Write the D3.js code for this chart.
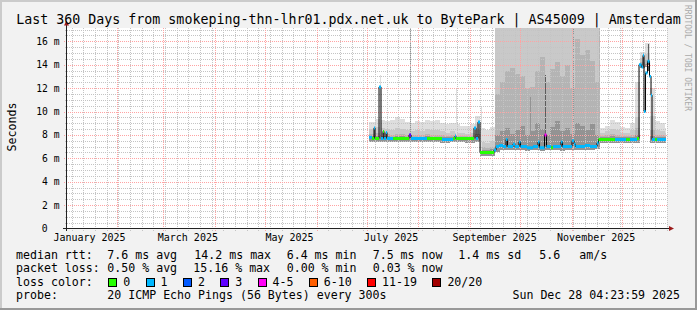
<!DOCTYPE html>
<html>
<head>
<meta charset="utf-8">
<script src="https://cdn.jsdelivr.net/npm/d3@7"></script>
<style>
  body { margin: 0; background: #f2f2f2; }
  svg { display: block; font-family: "DejaVu Sans Mono", monospace; }
</style>
</head>
<body>
<script>
// all x positions are day-of-year 2025 (0 = Jan 1)

// smoke bins (start day of each bin)
const smokeDays = [182.4, 186, 189, 192, 195, 198, 201, 204, 207, 210, 213, 216, 219, 222, 225, 228, 231, 234, 237, 240,
  243, 246, 249, 252, 255, 258, 261, 264, 267, 270, 273, 276, 279, 282, 285, 288, 291, 294, 297, 300,
  303, 306, 309, 312, 315, 318, 321, 324, 327, 330, 333, 336, 339, 342, 345, 348, 351, 354, 357, 360];
const dataEnd = 360.6;

// smoke band tops (ms)
const smokeMax = [9.1, 9.4, 9.3, 9.2, 9.3, 9.5, 9.4, 9.1, 9.0, 9.2, 9.1, 9.3, 9.2, 9.3, 9.0, 8.9, 9.0, 8.9, 8.8, 8.8,
  8.9, 9.6, 8.6, 8.4, 8.7,
  17.2, 17.2, 17.2, 17.2, 17.2, 17.2, 17.2, 17.2, 17.2, 17.2, 17.2, 17.2, 17.2, 17.2, 17.2, 17.2, 17.2, 17.2, 17.2, 17.2, 17.2,
  8.6, 8.8, 9.3, 9.1, 8.7, 8.6, 9.0, 12.5, 15.1, 15.9, 12.0, 9.2, 9.0, 8.6];
const smokeP90 = [8.5, 8.7, 8.6, 8.5, 8.4, 8.6, 8.5, 8.4, 8.3, 8.4, 8.3, 8.5, 8.4, 8.4, 8.3, 8.2, 8.3, 8.2, 8.2, 8.1,
  8.2, 8.9, 7.4, 7.3, 7.5,
  17.2, 17.2, 17.2, 17.2, 17.2, 17.2, 17.2, 17.2, 17.2, 17.2, 17.2, 17.2, 17.2, 17.2, 17.2, 17.2, 17.2, 17.2, 17.2, 17.2, 17.2,
  8.2, 8.3, 8.5, 8.4, 8.2, 8.2, 8.4, 9.5, 14.6, 14.9, 9.6, 8.4, 8.3, 8.2];
const smokeP75 = [8.1, 8.2, 8.2, 8.1, 8.0, 8.1, 8.1, 8.0, 8.0, 8.0, 8.0, 8.1, 8.0, 8.0, 8.0, 7.9, 8.0, 7.9, 7.9, 7.9,
  7.9, 8.5, 7.0, 6.9, 7.0,
  11.5, 12.5, 13.5, 13.7, 13.2, 13.0, 12.0, 12.1, 13.5, 14.7, 12.5, 13.6, 14.2, 13.0, 14.0, 12.0, 16.2, 14.8, 15.3, 14.3, 12.5,
  7.9, 8.0, 8.1, 8.0, 7.9, 7.9, 8.0, 8.6, 14.2, 14.4, 8.4, 8.0, 8.0, 7.9];
const smokeP60 = [7.9, 7.9, 7.9, 7.9, 7.8, 7.9, 7.9, 7.8, 7.8, 7.8, 7.8, 7.9, 7.8, 7.8, 7.8, 7.8, 7.8, 7.8, 7.8, 7.7,
  7.7, 8.1, 6.7, 6.7, 6.8,
  8.0, 8.3, 8.6, 8.1, 8.4, 8.8, 8.0, 8.3, 9.0, 8.5, 8.0, 8.7, 9.2, 8.3, 8.6, 8.1, 9.0, 8.8, 8.4, 8.9, 8.0,
  7.8, 7.8, 7.9, 7.8, 7.8, 7.8, 7.8, 8.0, 13.9, 14.1, 7.9, 7.8, 7.8, 7.8];
const smokeMin = [7.4, 7.4, 7.4, 7.4, 7.4, 7.4, 7.4, 7.4, 7.4, 7.4, 7.4, 7.4, 7.4, 7.4, 7.3, 7.3, 7.4, 7.4, 7.4, 7.3,
  7.3, 7.4, 6.2, 6.2, 6.2,
  6.5, 6.7, 6.7, 6.7, 6.7, 6.7, 6.6, 6.7, 6.7, 6.6, 6.7, 6.7, 6.7, 6.6, 6.7, 6.7, 6.7, 6.7, 6.7, 6.7, 6.8,
  7.3, 7.3, 7.3, 7.3, 7.3, 7.3, 7.3, 7.3, 13.7, 13.8, 7.3, 7.3, 7.3, 7.3];

// single pings far from the median
const spikeDays = [188.7, 207.0, 234.6, 249.6, 278.9, 287.9, 304.8, 320.4, 349.8];
const spikeLow = [7.7, 7.7, 7.8, 6.5, 7.0, 8.0, 7.5, 7.3, 13.5];
const spikeHigh = [13.1, 17.2, 12.0, 10.5, 11.2, 13.1, 17.2, 17.2, 15.8];
const spikeBand = [0, 3, 0, 0, 3, 4, 3, 2, 4];

// median rtt (step) and packet loss per step
const medDays = [182.4, 184.2, 185.4, 186.0, 188.4, 189.6, 190.8, 191.4, 192.6, 193.2, 196.8, 206.4, 207.6, 217.2, 226.2,
  232.8, 234.0, 234.6, 245.4, 246.6, 247.8, 249.0, 257.4, 258.6, 260.4, 262.8, 264.6, 265.5, 268.8, 270.0,
  272.4, 273.3, 277.2, 280.8, 283.8, 284.7, 287.7, 288.9, 291.6, 292.8, 297.6, 298.5, 304.2, 305.4, 306.3,
  312.0, 315.0, 319.2, 320.1, 330.0, 336.6, 339.0, 343.2, 344.4, 345.9, 346.8, 347.4, 348.3, 349.5, 350.7,
  351.6, 352.2, 354.0, 355.2];
const medVals = [7.8, 7.7, 8.6, 7.7, 12.1, 7.7, 8.3, 7.7, 8.2, 7.7, 7.7, 8.0, 7.7, 7.7, 7.6,
  7.7, 7.9, 7.7, 8.6, 7.7, 9.1, 6.5, 6.7, 7.0, 7.1, 7.0, 7.6, 7.0, 7.2, 7.0,
  7.4, 7.0, 6.9, 7.0, 7.4, 6.9, 8.0, 7.0, 6.9, 7.0, 7.4, 7.0, 7.5, 7.2, 7.0,
  7.1, 7.0, 7.3, 7.6, 7.6, 7.6, 7.6, 7.7, 14.0, 13.8, 14.8, 10.0, 13.3, 14.3, 13.0,
  11.4, 7.6, 7.6, 7.6];
const medLoss = [1, 0, 1, 0, 1, 1, 0, 1, 1, 1, 0, 3, 1, 0, 1,
  0, 1, 0, 1, 1, 1, 0, 1, 1, 1, 1, 1, 1, 1, 1,
  1, 1, 1, 1, 1, 1, 4, 1, 0, 1, 1, 1, 1, 1, 1,
  1, 1, 1, 0, 1, 0, 1, 0, 1, 1, 1, 1, 1, 1, 1,
  1, 1, 0, 1];

// axes / legend text
const yTicks = [0, 2, 4, 6, 8, 10, 12, 14, 16];
const yTickLabels = ["0", "2 m", "4 m", "6 m", "8 m", "10 m", "12 m", "14 m", "16 m"];
const xLabelMonths = [0, 2, 4, 6, 8, 10];
const xLabels = ["January 2025", "March 2025", "May 2025", "July 2025", "September 2025", "November 2025"];
const lossLabels = ["0", "1", "2", "3", "4-5", "6-10", "11-19", "20/20"];
const lossColors = ["#26ff00", "#00b8ff", "#0059ff", "#5e00ff", "#ff00f6", "#ff5e00", "#ff0000", "#a10000"];
const rttStats = ["7.6 ms avg", "14.2 ms max", "6.4 ms min", "7.5 ms now", "1.4 ms sd", "5.6", "am/s"];
const lossStats = ["0.50 % avg", "15.16 % max", "0.00 % min", "0.03 % now"];

const W = 697, H = 310;
const yMax = 17.14;
const smokeShades = ["#dedede", "#c9c9c9", "#b4b4b4", "#939393", "#5c5c5c"];

const dayToDate = (d) => new Date(new Date(2025, 0, 1).getTime() + d * 864e5);

const x = d3.scaleTime()
  .domain([new Date(2025, 0, 2, 4, 23, 59), new Date(2025, 11, 28, 4, 23, 59)])
  .range([67, 667]);
const y = d3.scaleLinear().domain([0, yMax]).range([228.5, 28]);
const xd = (d) => x(dayToDate(d));
const lossColor = d3.scaleThreshold().domain([1, 2, 3, 4, 6, 11, 20]).range(lossColors);

const svg = d3.select("body").append("svg").attr("width", W).attr("height", H);

// background and 3d frame
svg.append("rect").attr("width", W).attr("height", H).attr("fill", "#f2f2f2");
svg.append("rect").attr("width", W).attr("height", 2).attr("fill", "#cbcbcb");
svg.append("rect").attr("width", 2).attr("height", H).attr("fill", "#cbcbcb");
svg.append("rect").attr("x", W - 2).attr("width", 2).attr("height", H).attr("fill", "#999");
svg.append("rect").attr("y", H - 2).attr("width", W).attr("height", 2).attr("fill", "#999");

svg.append("rect").attr("x", 67).attr("y", 28).attr("width", 600).attr("height", 200.5).attr("fill", "#fff");

svg.append("clipPath").attr("id", "plotclip")
  .append("rect").attr("x", 67).attr("y", 28).attr("width", 600).attr("height", 200.5);

// smoke
const smoke = svg.append("g").attr("clip-path", "url(#plotclip)").attr("shape-rendering", "crispEdges");
const bands = [smokeMax, smokeP90, smokeP75, smokeP60];
bands.forEach(function (tops, b) {
  smoke.selectAll(".band" + b)
    .data(smokeDays)
    .enter()
    .append("rect")
    .attr("x", (d) => xd(d))
    .attr("width", (d, i) => xd(i < smokeDays.length - 1 ? smokeDays[i + 1] : dataEnd) - xd(d))
    .attr("y", (d, i) => y(Math.min(tops[i], yMax)))
    .attr("height", (d, i) => y(smokeMin[i]) - y(Math.min(tops[i], yMax)))
    .attr("fill", smokeShades[b]);
});
smoke.selectAll(".spike")
  .data(spikeDays)
  .enter()
  .append("rect")
  .attr("x", (d) => xd(d))
  .attr("width", 1)
  .attr("y", (d, i) => y(Math.min(spikeHigh[i], yMax)))
  .attr("height", (d, i) => y(spikeLow[i]) - y(Math.min(spikeHigh[i], yMax)))
  .attr("fill", (d, i) => smokeShades[spikeBand[i]]);

// grid
const grid = svg.append("g").attr("shape-rendering", "crispEdges");
const t0 = x.domain()[0], t1 = x.domain()[1];
const weeks = d3.timeSunday.range(t0, t1);
const months = d3.timeMonth.range(t0, t1);
const minorY = d3.range(0.5, yMax, 0.5).filter((v) => v % 2 !== 0);
const majorY = yTicks.filter((v) => v > 0);

grid.selectAll(".vminor").data(weeks).enter().append("line")
  .attr("x1", (d) => Math.round(x(d)) + 0.5).attr("x2", (d) => Math.round(x(d)) + 0.5)
  .attr("y1", 28).attr("y2", 230.5)
  .attr("stroke", "#c4c4c4").attr("stroke-dasharray", "1,1");
grid.selectAll(".hminor").data(minorY).enter().append("line")
  .attr("x1", 65).attr("x2", 667)
  .attr("y1", (d) => Math.round(y(d)) + 0.5).attr("y2", (d) => Math.round(y(d)) + 0.5)
  .attr("stroke", "#c4c4c4").attr("stroke-dasharray", "1,1");
grid.selectAll(".vmajor").data(months).enter().append("line")
  .attr("x1", (d) => Math.round(x(d)) + 0.5).attr("x2", (d) => Math.round(x(d)) + 0.5)
  .attr("y1", 28).attr("y2", 231.5)
  .attr("stroke", "#ffa3a3").attr("stroke-dasharray", "1,1");
grid.selectAll(".hmajor").data(majorY).enter().append("line")
  .attr("x1", 64).attr("x2", 667)
  .attr("y1", (d) => Math.round(y(d)) + 0.5).attr("y2", (d) => Math.round(y(d)) + 0.5)
  .attr("stroke", "#ffa3a3").attr("stroke-dasharray", "1,1");

// median: black step line, loss colored segments on top
const medPts = medDays.map((d, i) => [d, medVals[i]]).concat([[dataEnd, medVals[medVals.length - 1]]]);
const stepLine = d3.line().x((p) => xd(p[0])).y((p) => y(p[1])).curve(d3.curveStepAfter);
svg.append("path")
  .attr("clip-path", "url(#plotclip)")
  .attr("d", stepLine(medPts))
  .attr("fill", "none").attr("stroke", "#000").attr("stroke-width", 1);
svg.append("g").attr("clip-path", "url(#plotclip)")
  .selectAll("line").data(medDays).enter().append("line")
  .attr("x1", (d) => xd(d))
  .attr("x2", (d, i) => xd(i < medDays.length - 1 ? medDays[i + 1] : dataEnd))
  .attr("y1", (d, i) => y(medVals[i])).attr("y2", (d, i) => y(medVals[i]))
  .attr("stroke", (d, i) => lossColor(medLoss[i]))
  .attr("stroke-width", 3);

// axes with arrows
svg.append("line").attr("x1", 66.5).attr("x2", 66.5).attr("y1", 231).attr("y2", 23)
  .attr("stroke", "#222").attr("shape-rendering", "crispEdges");
svg.append("line").attr("x1", 63).attr("x2", 670).attr("y1", 228.5).attr("y2", 228.5)
  .attr("stroke", "#222").attr("shape-rendering", "crispEdges");
svg.append("path").attr("d", "M66.5,20.5L64,25.5L69,25.5Z").attr("fill", "#9b1b1b");
svg.append("path").attr("d", "M674,228.5L669,226L669,231Z").attr("fill", "#9b1b1b");

// y tick labels
svg.selectAll(".ylab").data(yTicks).enter().append("text")
  .attr("x", (d) => (d === 0 ? 47.5 : 59.5))
  .attr("y", (d) => y(d) + 3.5)
  .attr("text-anchor", "end")
  .attr("font-size", "9.7px")
  .text((d, i) => yTickLabels[i]);

// x labels centred on mid-month
svg.selectAll(".xlab").data(xLabelMonths).enter().append("text")
  .attr("x", (m) => x(new Date(new Date(2025, m, 1).getTime() + 14.7 * 864e5)))
  .attr("y", 241)
  .attr("text-anchor", "middle")
  .attr("font-size", "10px")
  .text((m, i) => xLabels[i]);

// title and axis title
svg.append("text").attr("x", 348.5).attr("y", 24).attr("text-anchor", "middle")
  .attr("font-size", "13.3px")
  .text("Last 360 Days from smokeping-thn-lhr01.pdx.net.uk to BytePark | AS45009 | Amsterdam");
svg.append("text").attr("transform", "translate(15.5,127) rotate(-90)")
  .attr("text-anchor", "middle").attr("font-size", "11.6px").text("Seconds");
svg.append("text").attr("transform", "translate(685,5) rotate(90)")
  .attr("font-size", "8px").attr("fill", "#aaa").text("RRDTOOL / TOBI OETIKER");

// legend
const legend = svg.append("g").attr("font-size", "11.6px").attr("xml:space", "preserve");
const rttCols = [107.3, 194.3, 286.7, 372.7, 458.3, 539.3, 579.3];
legend.append("text").attr("x", 16).attr("y", 258.5).text("median rtt:");
rttStats.forEach((s, i) => legend.append("text").attr("x", rttCols[i]).attr("y", 258.5).text(s));
legend.append("text").attr("x", 16).attr("y", 272).text("packet loss:");
lossStats.forEach((s, i) => legend.append("text").attr("x", rttCols[i] - (i === 1 ? 1 : 0)).attr("y", 272).text(s));
legend.append("text").attr("x", 16).attr("y", 285.7).text("loss color:");
let bx = 108.3;
lossLabels.forEach(function (lab, i) {
  legend.append("rect")
    .attr("x", Math.round(bx) + 0.5).attr("y", 278.5).attr("width", 8).attr("height", 8)
    .attr("fill", lossColors[i]).attr("stroke", "#000").attr("shape-rendering", "crispEdges");
  legend.append("text").attr("x", bx + 15).attr("y", 285.7).text(lab);
  bx += 15 + lab.length * 7 + 15.3;
});
legend.append("text").attr("x", 16).attr("y", 299.3).text("probe:");
legend.append("text").attr("x", 107.3).attr("y", 299.3).text("20 ICMP Echo Pings (56 Bytes) every 300s");
legend.append("text").attr("x", 680).attr("y", 299.3).attr("text-anchor", "end").text("Sun Dec 28 04:23:59 2025");
</script>
</body>
</html>
